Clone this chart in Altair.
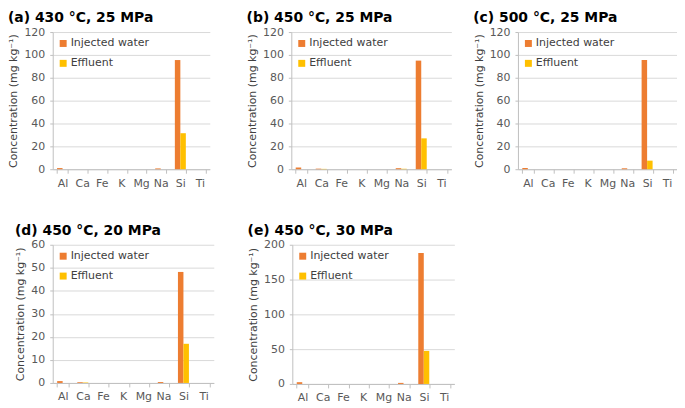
import altair as alt
import pandas as pd

elements = ["Al", "Ca", "Fe", "K", "Mg", "Na", "Si", "Ti"]
series_names = ["Injected water", "Effluent"]
colors = ["#ED7D31", "#FFC000"]

titles = ["(a) 430 °C, 25 MPa", "(b) 450 °C, 25 MPa", "(c) 500 °C, 25 MPa",
          "(d) 450 °C, 20 MPa", "(e) 450 °C, 30 MPa"]

a_inj = [1.0, 0.0, 0.0, 0.0, 0.0, 0.7, 95.5, 0.0]
a_eff = [0.0, 0.0, 0.0, 0.0, 0.0, 0.0, 31.5, 0.0]
b_inj = [1.5, 0.5, 0.0, 0.0, 0.0, 0.9, 95.0, 0.0]
b_eff = [0.0, 0.3, 0.0, 0.0, 0.0, 0.4, 27.0, 0.0]
c_inj = [1.0, 0.0, 0.0, 0.0, 0.0, 0.8, 95.5, 0.0]
c_eff = [0.0, 0.0, 0.0, 0.0, 0.0, 0.0, 7.5, 0.0]
d_inj = [0.8, 0.3, 0.0, 0.0, 0.0, 0.4, 48.2, 0.0]
d_eff = [0.0, 0.2, 0.0, 0.0, 0.0, 0.0, 17.0, 0.0]
e_inj = [2.5, 0.0, 0.0, 0.0, 0.0, 1.5, 188.0, 0.0]
e_eff = [0.0, 0.0, 0.0, 0.0, 0.0, 0.0, 47.5, 0.0]

ticks_120 = [0, 20, 40, 60, 80, 100, 120]
ticks_60 = [0, 10, 20, 30, 40, 50, 60]
ticks_200 = [0, 50, 100, 150, 200]

FONT = "DejaVu Sans"
ytitle = "Concentration (mg kg⁻¹)"


def panel(inj, eff, title, ticks, w, h):
    rows = []
    for el, v in zip(elements, inj):
        rows.append({"element": el, "series": series_names[0], "value": v})
    for el, v in zip(elements, eff):
        rows.append({"element": el, "series": series_names[1], "value": v})
    df = pd.DataFrame(rows)
    return alt.Chart(df).mark_bar().encode(
        x=alt.X("element:N", sort=elements,
                scale=alt.Scale(paddingInner=0.44, paddingOuter=0.22),
                axis=alt.Axis(title=None, labelAngle=0, tickBand="extent",
                              grid=False, tickSize=4, labelPadding=4)),
        xOffset=alt.XOffset("series:N", sort=series_names,
                            scale=alt.Scale(paddingInner=0, paddingOuter=0)),
        y=alt.Y("value:Q", scale=alt.Scale(domain=[ticks[0], ticks[-1]], nice=False),
                axis=alt.Axis(values=ticks, title=ytitle, grid=True, tickSize=3,
                              labelPadding=5, titlePadding=5)),
        color=alt.Color("series:N", sort=series_names,
                        scale=alt.Scale(domain=series_names, range=colors),
                        legend=alt.Legend(title=None, orient="none", legendX=5, legendY=6,
                                          symbolType="square", symbolSize=49,
                                          symbolStrokeWidth=0, labelOffset=2,
                                          rowPadding=8, padding=0,
                                          labelFontSize=11, labelFont=FONT,
                                          labelColor="#404040")),
    ).properties(
        width=w, height=h,
        title=alt.TitleParams(title, anchor="start", frame="bounds", fontSize=14,
                              fontWeight="bold", font=FONT, color="black", offset=1),
    )


pa = panel(a_inj, a_eff, titles[0], ticks_120, 158, 138)
pb = panel(b_inj, b_eff, titles[1], ticks_120, 161, 138)
pc = panel(c_inj, c_eff, titles[2], ticks_120, 160, 138)
pd_ = panel(d_inj, d_eff, titles[3], ticks_60, 162, 139)
pe = panel(e_inj, e_eff, titles[4], ticks_200, 163, 140)

top_ab = alt.hconcat(pa, pb, spacing=37).resolve_scale(y="independent").resolve_legend(color="independent")
top = alt.hconcat(top_ab, pc, spacing=22).resolve_scale(y="independent").resolve_legend(color="independent")
bottom = alt.hconcat(pd_, pe, spacing=34).resolve_scale(y="independent").resolve_legend(color="independent")

chart = alt.vconcat(top, bottom, spacing=36).resolve_scale(y="independent").resolve_legend(
    color="independent"
).properties(padding={"left": 0, "top": 2, "right": 0, "bottom": 0}).configure_view(stroke=None).configure_axis(
    labelFont=FONT, labelFontSize=11, labelColor="#595959",
    titleFont=FONT, titleFontSize=11, titleColor="#404040", titleFontWeight="normal",
    domainColor="#BFBFBF", tickColor="#BFBFBF", gridColor="#D9D9D9",
).configure_concat(spacing=20)

chart.save("out.html", embed_options={"renderer": "svg", "actions": False})
